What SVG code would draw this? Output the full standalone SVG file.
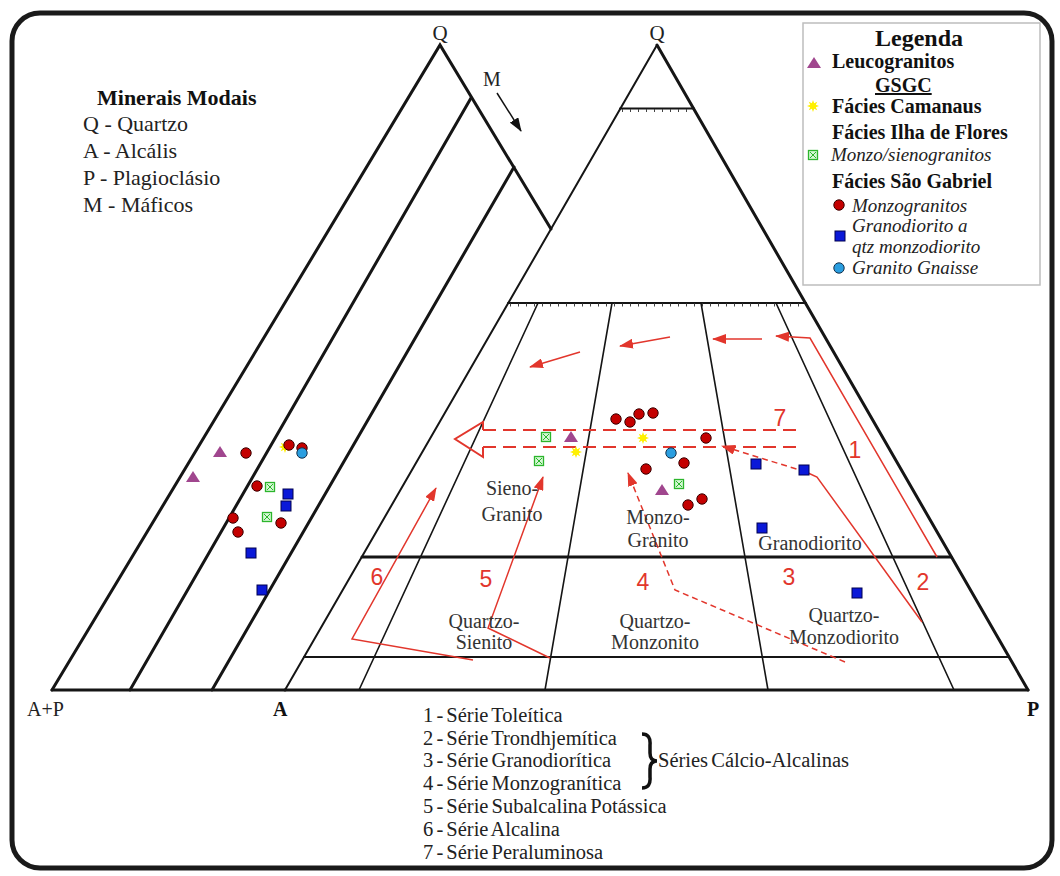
<svg xmlns="http://www.w3.org/2000/svg" xmlns:xlink="http://www.w3.org/1999/xlink" width="1060" height="876" viewBox="0 0 1060 876">
<style>
.ln{stroke:#151515;fill:none;stroke-width:2;stroke-linecap:round}
.thk{stroke-width:3}
.thn{stroke-width:1.6}
.tick{stroke:#444;stroke-width:3;stroke-dasharray:1 7;fill:none}
.red{stroke:#e2362c;stroke-width:1.5;fill:none}
.rdash{stroke:#e2362c;stroke-width:1.5;fill:none;stroke-dasharray:6 4}
.d7{stroke:#e2362c;stroke-width:2.2;fill:none;stroke-dasharray:13 7}
.t{font-family:"Liberation Serif","Times New Roman",serif;fill:#222}
.b{font-weight:bold;fill:#111}
.i{font-style:italic}
.num{font-family:"Liberation Sans",Arial,sans-serif;fill:#e2362c;font-size:23px;text-anchor:middle}
.lab{font-size:20px;text-anchor:middle;fill:#333}
.lst{font-size:20.5px;word-spacing:-2px}
</style>
<defs>
<marker id="ra" viewBox="0 0 14 10" refX="13" refY="5" markerWidth="14" markerHeight="10" markerUnits="userSpaceOnUse" orient="auto"><path d="M0,0 L14,5 L0,10 Z" fill="#e2362c"/></marker>
<marker id="ka" viewBox="0 0 14 10" refX="13" refY="5" markerWidth="14" markerHeight="10" markerUnits="userSpaceOnUse" orient="auto"><path d="M0,0 L14,5 L0,10 Z" fill="#111"/></marker>
<circle id="rc" r="5.2" fill="#c40000" stroke="#3a0000" stroke-width="1"/>
<circle id="lb" r="5.2" fill="#2a9ee0" stroke="#15304a" stroke-width="1"/>
<rect id="bs" x="-5" y="-5" width="10" height="10" fill="#0a18d8" stroke="#000050" stroke-width="1"/>
<g id="gb"><rect x="-4.5" y="-4.5" width="9" height="9" fill="#d4f8d4" stroke="#2cb52c" stroke-width="1.3"/><path d="M-3,-3 L3,3 M3,-3 L-3,3" stroke="#2cb52c" stroke-width="1"/></g>
<path id="pt" d="M0,-6 L7,5 L-7,5 Z" fill="#a0468e"/>
<polygon id="ys" fill="#fff000" points="6,0 2.77,1.15 4.24,4.24 1.15,2.77 0,6 -1.15,2.77 -4.24,4.24 -2.77,1.15 -6,0 -2.77,-1.15 -4.24,-4.24 -1.15,-2.77 0,-6 1.15,-2.77 4.24,-4.24 2.77,-1.15"/>
</defs>

<rect x="0" y="0" width="1060" height="876" fill="#fff"/>
<rect id="frame" x="12" y="13" width="1040" height="855" rx="28" ry="28" fill="#fff" stroke="#1a1a1a" stroke-width="5"/>

<g id="left-triangle">
<path class="ln thk" d="M52,690 L440,45 L551,229"/>
<line class="ln thk" x1="130" y1="690" x2="471" y2="98"/>
<line class="ln thk" x1="212" y1="690" x2="514" y2="167"/>
<line class="ln thk" x1="52" y1="690" x2="285" y2="690"/>
</g>

<g id="right-triangle">
<line class="ln" x1="657" y1="45" x2="551" y2="229" stroke-width="2.5"/>
<line class="ln" x1="551" y1="229" x2="285" y2="690" stroke-width="4"/>
<line class="ln thk" x1="657" y1="45" x2="1028" y2="690"/>
<line class="ln thk" x1="285" y1="690" x2="1028" y2="690"/>
<line class="ln" x1="620" y1="108.5" x2="694" y2="108.5"/>
<line class="tick" x1="622" y1="110.5" x2="692" y2="110.5"/>
<line class="ln" x1="508" y1="303" x2="806" y2="303"/>
<line class="tick" x1="510" y1="305" x2="804" y2="305"/>
<line class="ln thk" x1="362" y1="557" x2="951" y2="557"/>
<line class="ln" x1="304" y1="657" x2="1008" y2="657"/>
<line class="ln thn" x1="538" y1="303" x2="359" y2="690"/>
<line class="ln thn" x1="612" y1="303" x2="545" y2="690"/>
<line class="ln thn" x1="701" y1="303" x2="768" y2="690"/>
<line class="ln thn" x1="776" y1="303" x2="954" y2="690"/>
</g>

<g id="axis-labels" class="t">
<text x="440" y="40" font-size="21" text-anchor="middle">Q</text>
<text x="657" y="40" font-size="21" text-anchor="middle">Q</text>
<text x="483" y="86" font-size="20">M</text>
<text x="27" y="716" font-size="20">A+P</text>
<text x="273" y="716" font-size="20" class="b">A</text>
<text x="1027" y="716" font-size="20" class="b">P</text>
</g>

<g id="connectors">
<line x1="497" y1="93" x2="521" y2="131" stroke="#111" stroke-width="1.5" marker-end="url(#ka)"/>
<path d="M483,430 L483,422 L455,439 L483,457 L483,447" stroke="#e2362c" stroke-width="2" fill="none" stroke-linejoin="miter"/>
<line class="d7" x1="483" y1="430" x2="797" y2="430"/>
<line class="d7" x1="483" y1="447" x2="797" y2="447"/>
<path class="red" d="M937,557 L810,338 L776,336" marker-end="url(#ra)"/>
<line class="red" x1="762" y1="339" x2="713" y2="339" marker-end="url(#ra)"/>
<line class="red" x1="670" y1="337" x2="620" y2="346" marker-end="url(#ra)"/>
<line class="red" x1="580" y1="352" x2="530" y2="367" marker-end="url(#ra)"/>
<path class="red" d="M922,622 L817,477 L806,472"/>
<path class="rdash" d="M806,472 L722,446" marker-end="url(#ra)"/>
<path class="rdash" d="M845,662 L675,590 L628,473" marker-end="url(#ra)"/>
<path class="red" d="M550,658 L488,628 L543,477" marker-end="url(#ra)"/>
<path class="red" d="M473,660 L352,639 L436,488" marker-end="url(#ra)"/>
</g>

<g id="series-numbers">
<text class="num" x="780" y="426">7</text>
<text class="num" x="855" y="458">1</text>
<text class="num" x="923" y="590">2</text>
<text class="num" x="789" y="585">3</text>
<text class="num" x="643" y="590">4</text>
<text class="num" x="486" y="587">5</text>
<text class="num" x="377" y="585">6</text>
</g>

<g id="field-labels" class="t">
<text class="lab" x="512" y="495">Sieno-</text>
<text class="lab" x="512" y="521">Granito</text>
<text class="lab" x="658" y="524">Monzo-</text>
<text class="lab" x="658" y="547">Granito</text>
<text class="lab" x="810" y="550">Granodiorito</text>
<text class="lab" x="484" y="628">Quartzo-</text>
<text class="lab" x="484" y="649">Sienito</text>
<text class="lab" x="655" y="628">Quartzo-</text>
<text class="lab" x="655" y="649">Monzonito</text>
<text class="lab" x="844" y="622">Quartzo-</text>
<text class="lab" x="844" y="644">Monzodiorito</text>
</g>

<g id="data-left">
<use href="#pt" x="220" y="452"/>
<use href="#pt" x="193" y="477"/>
<use href="#rc" x="246" y="453"/>
<use href="#ys" x="285" y="447"/>
<use href="#rc" x="289" y="445"/>
<use href="#rc" x="302" y="448"/>
<use href="#lb" x="302" y="453"/>
<use href="#rc" x="257" y="486"/>
<use href="#gb" x="270" y="487"/>
<use href="#bs" x="288" y="494"/>
<use href="#bs" x="286" y="506"/>
<use href="#rc" x="233" y="518"/>
<use href="#gb" x="267" y="517"/>
<use href="#rc" x="281" y="523"/>
<use href="#rc" x="238" y="532"/>
<use href="#bs" x="251" y="553"/>
<use href="#bs" x="262" y="590"/>
</g>

<g id="data-right">
<use href="#rc" x="616" y="419"/>
<use href="#rc" x="630" y="422"/>
<use href="#rc" x="639" y="414"/>
<use href="#rc" x="653" y="413"/>
<use href="#gb" x="546" y="437"/>
<use href="#pt" x="571" y="437"/>
<use href="#ys" x="643" y="438"/>
<use href="#rc" x="706" y="438"/>
<use href="#ys" x="576" y="452"/>
<use href="#lb" x="671" y="453"/>
<use href="#rc" x="684" y="463"/>
<use href="#gb" x="539" y="461"/>
<use href="#rc" x="646" y="469"/>
<use href="#gb" x="679" y="484"/>
<use href="#pt" x="662" y="490"/>
<use href="#rc" x="702" y="499"/>
<use href="#rc" x="688" y="505"/>
<use href="#bs" x="756" y="464"/>
<use href="#bs" x="804" y="470"/>
<use href="#bs" x="762" y="528"/>
<use href="#bs" x="857" y="593"/>
</g>

<g id="minerais" class="t">
<text x="97" y="105" font-size="22" class="b">Minerais Modais</text>
<text x="83" y="131" font-size="22">Q - Quartzo</text>
<text x="83" y="158" font-size="22">A - Alcális</text>
<text x="83" y="185" font-size="22">P - Plagioclásio</text>
<text x="83" y="212" font-size="22">M - Máficos</text>
</g>

<g id="legend" class="t">
<rect x="803" y="23" width="237" height="262" fill="#fff" stroke="#bdbdbd" stroke-width="1.5"/>
<text x="919" y="46" font-size="24" class="b" text-anchor="middle">Legenda</text>
<use href="#pt" x="814" y="63"/>
<text x="832" y="68" font-size="20" class="b">Leucogranitos</text>
<text x="875" y="92" font-size="20" class="b" text-decoration="underline">GSGC</text>
<use href="#ys" x="813" y="106"/>
<text x="832" y="113" font-size="20" class="b">Fácies Camanaus</text>
<text x="832" y="139" font-size="20" class="b">Fácies Ilha de Flores</text>
<use href="#gb" x="813" y="155"/>
<text x="831" y="161" font-size="19" class="i">Monzo/sienogranitos</text>
<text x="832" y="188" font-size="20" class="b">Fácies São Gabriel</text>
<use href="#rc" x="839" y="205"/>
<text x="852" y="212" font-size="19" class="i">Monzogranitos</text>
<use href="#bs" x="840" y="236"/>
<text x="852" y="232" font-size="19" class="i">Granodiorito a</text>
<text x="852" y="253" font-size="19" class="i">qtz monzodiorito</text>
<use href="#lb" x="839" y="268"/>
<text x="852" y="274" font-size="19" class="i">Granito Gnaisse</text>
</g>

<g id="series-list" class="t">
<text class="lst" x="423" y="722">1 - Série Toleítica</text>
<text class="lst" x="423" y="745">2 - Série Trondhjemítica</text>
<text class="lst" x="423" y="767">3 - Série Granodiorítica</text>
<text class="lst" x="423" y="790">4 - Série Monzogranítica</text>
<text class="lst" x="423" y="813">5 - Série Subalcalina Potássica</text>
<text class="lst" x="423" y="836">6 - Série Alcalina</text>
<text class="lst" x="423" y="859">7 - Série Peraluminosa</text>
<path d="M642,734 Q651,734 650,745 L650,753 Q650,761 657,761 Q650,761 650,769 L650,777 Q651,788 642,788" stroke="#111" stroke-width="3.5" fill="none"/>
<text class="lst" x="658" y="767">Séries Cálcio-Alcalinas</text>
</g>
</svg>
